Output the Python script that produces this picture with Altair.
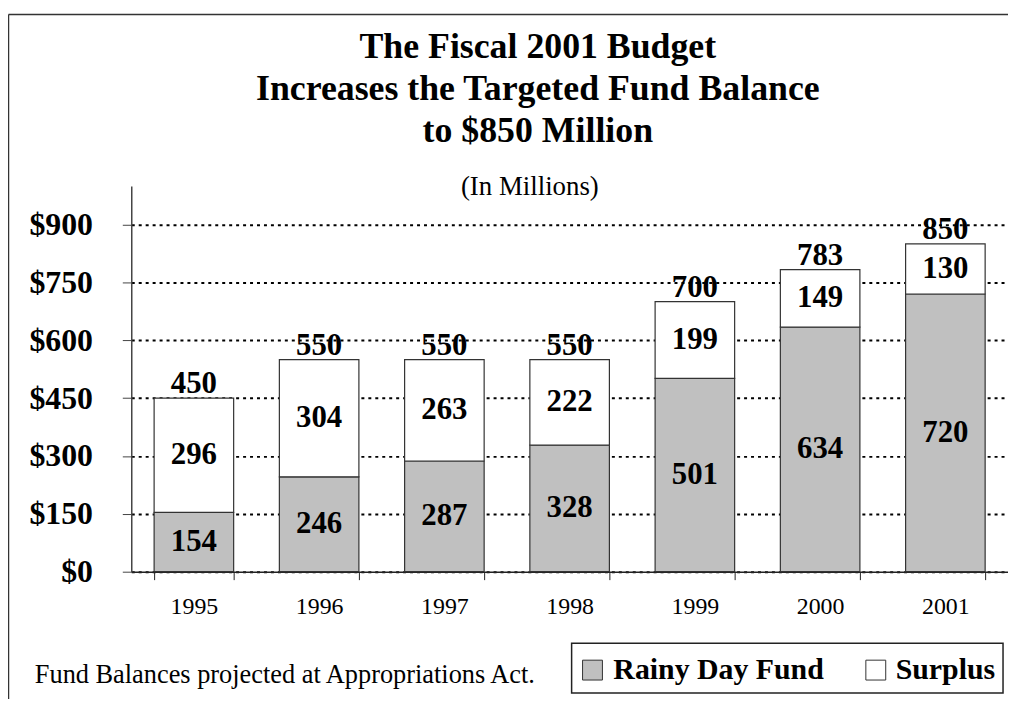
import altair as alt
import pandas as pd

years = ["1995", "1996", "1997", "1998", "1999", "2000", "2001"]
rainy_day = [154, 246, 287, 328, 501, 634, 720]
surplus = [296, 304, 263, 222, 199, 149, 130]
series_names = ["Rainy Day Fund", "Surplus"]
series_colors = ["#c0c0c0", "#ffffff"]
y_ticks = [0, 150, 300, 450, 600, 750, 900]
title_lines = ["The Fiscal 2001 Budget", "Increases the Targeted Fund Balance", "to $850 Million"]
subtitle = "(In Millions)"
footnote = "Fund Balances projected at Appropriations Act."

rows = []
for i, yr in enumerate(years):
    rows.append({"year": yr, "series": series_names[0], "value": rainy_day[i], "order": 0})
    rows.append({"year": yr, "series": series_names[1], "value": surplus[i], "order": 1})
df = pd.DataFrame(rows)

FONT = "Liberation Serif"
W, H = 882, 388

xenc = alt.X("year:N", title=None, sort=years,
             scale=alt.Scale(paddingInner=0.365, paddingOuter=0.1825))
yaxis = alt.Axis(values=y_ticks, format="$.0f")
yscale = alt.Scale(domain=[0, 1000], nice=False)

bars = alt.Chart(df).mark_bar(stroke="#333333", strokeWidth=1.2).encode(
    x=xenc,
    y=alt.Y("value:Q", stack="zero", title=None, scale=yscale, axis=yaxis),
    color=alt.Color("series:N", scale=alt.Scale(domain=series_names, range=series_colors),
                    legend=None),
    order=alt.Order("order:Q"),
)

seg_labels = alt.Chart(df).transform_stack(
    stack="value", groupby=["year"], as_=["v0", "v1"],
    sort=[alt.SortField("order", order="ascending")]
).transform_calculate(mid="(datum.v0 + datum.v1) / 2").mark_text(
    font=FONT, fontSize=31, fontWeight="bold", color="black", baseline="middle"
).encode(
    x=xenc,
    y=alt.Y("mid:Q", title=None, scale=yscale, axis=yaxis),
    text=alt.Text("value:Q"),
)

totals = alt.Chart(df).transform_aggregate(
    total="sum(value)", groupby=["year"]
).mark_text(
    font=FONT, fontSize=31, fontWeight="bold", color="black", baseline="bottom", dy=2
).encode(
    x=xenc,
    y=alt.Y("total:Q", title=None, scale=yscale, axis=yaxis),
    text=alt.Text("total:Q"),
)

def label(txt, x, y, size, weight="normal", align="center"):
    return alt.Chart(pd.DataFrame({"t": [txt]})).mark_text(
        font=FONT, fontSize=size, fontWeight=weight, color="black",
        align=align, baseline="middle"
    ).encode(text="t:N", x=alt.value(x), y=alt.value(y))

titles = [label(t, 409, yv, 36, "bold") for t, yv in zip(title_lines, [-140, -98, -55])]
sub = label(subtitle, 401, 1, 27)
foot = label(footnote, -97, 492, 26.5, align="left")

one = pd.DataFrame({"k": [0]})
frame_top = alt.Chart(one).mark_rule(color="#333333", strokeWidth=1.5).encode(
    x=alt.value(-123.5), x2=alt.value(900), y=alt.value(-172.5))
frame_left = alt.Chart(one).mark_rule(color="#333333", strokeWidth=1.5).encode(
    x=alt.value(-123.5), y=alt.value(-172.5), y2=alt.value(540))

# legend (drawn manually so entries can have their own widths)
leg_box = alt.Chart(one).mark_rect(fill="white", stroke="#222222", strokeWidth=1.5).encode(
    x=alt.value(443), x2=alt.value(877), y=alt.value(460), y2=alt.value(510))
leg_sym = [
    alt.Chart(one).mark_rect(fill=series_colors[i], stroke="#333333", strokeWidth=1).encode(
        x=alt.value(sx), x2=alt.value(sx + 20), y=alt.value(477), y2=alt.value(497))
    for i, sx in enumerate([454, 739])
]
leg_txt = [label(series_names[i], tx, 487, 30, "bold", align="left")
           for i, tx in enumerate([485, 769])]

chart = alt.layer(bars, seg_labels, totals, *titles, sub, foot, frame_top, frame_left,
                  leg_box, *leg_sym, *leg_txt).properties(
    width=W, height=H,
    autosize=alt.AutoSizeParams(type="none"),
    padding={"left": 124, "top": 177, "right": 0, "bottom": 126},
).configure_view(stroke=None).configure_axisX(
    domainColor="#222222", domainWidth=1.5, tickColor="#222222", tickSize=8,
    tickBand="extent", labelFont=FONT, labelFontSize=24, labelColor="black",
    labelPadding=15, labelAngle=0, grid=False,
).configure_axisY(
    domainColor="#444444", domainWidth=1.5, tickColor="#444444", tickSize=9,
    labelFont=FONT, labelFontSize=32, labelFontWeight="bold", labelColor="black",
    labelPadding=30, grid=True, gridColor="black", gridDash=[3, 4], gridWidth=2,
)

chart.save("out.html", embed_options={"renderer": "svg", "actions": False})
